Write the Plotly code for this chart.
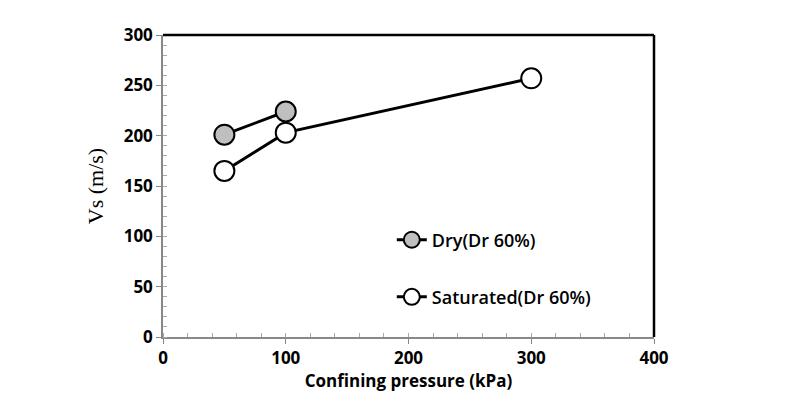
import plotly.graph_objects as go

# confining pressure (kPa) and shear wave velocity Vs (m/s)
dry_p = [50, 100]
dry_vs = [201, 224]
sat_p = [50, 100, 300]
sat_vs = [165, 203, 257]

fig = go.Figure()

fig.add_trace(go.Scatter(
    x=dry_p, y=dry_vs, mode="lines+markers", name="Dry(Dr 60%)",
    line=dict(color="black", width=3),
    marker=dict(size=20, color="#bfbfbf", line=dict(color="black", width=2)),
    legend="legend", showlegend=True))

fig.add_trace(go.Scatter(
    x=sat_p, y=sat_vs, mode="lines+markers", name="Saturated(Dr 60%)",
    line=dict(color="black", width=3),
    marker=dict(size=20, color="white", line=dict(color="black", width=2)),
    legend="legend2", showlegend=True))

axis_font = dict(family="Open Sans", size=17, color="black", weight="bold")
leg_font = dict(family="Open Sans", size=18, color="black", weight=600)

# page body has an 8px margin, so the figure is sized 8px smaller
fig.update_layout(
    width=779, height=405,
    margin=dict(l=155, r=133, t=27, b=76),
    showlegend=True,
    plot_bgcolor="white", paper_bgcolor="white",
    xaxis=dict(range=[0, 400], dtick=100, showgrid=False, zeroline=False,
               showline=True, linecolor="#888888", linewidth=1.5,
               ticks="outside", ticklen=5, tickcolor="#888888",
               minor=dict(dtick=20, ticks="inside", ticklen=4, tickcolor="#aaaaaa"),
               tickfont=axis_font,
               title=dict(text="Confining pressure (kPa)",
                          font=dict(family="Open Sans", size=17, color="black", weight="bold"),
                          standoff=6)),
    yaxis=dict(range=[0, 300], dtick=50, showgrid=False, zeroline=False,
               showline=True, linecolor="#888888", linewidth=1.5,
               ticks="outside", ticklen=5, tickcolor="#888888",
               minor=dict(dtick=10, ticks="inside", ticklen=4, tickcolor="#aaaaaa"),
               tickfont=axis_font,
               title=dict(text="Vs (m/s)",
                          font=dict(family="Liberation Serif", size=22, color="black"),
                          standoff=14)),
    legend=dict(x=0.466, y=0.321, xanchor="left", yanchor="middle",
                bgcolor="rgba(0,0,0,0)", font=leg_font),
    legend2=dict(x=0.466, y=0.132, xanchor="left", yanchor="middle",
                 bgcolor="rgba(0,0,0,0)", font=leg_font),
    shapes=[
        dict(type="line", xref="paper", yref="paper", x0=0, x1=1, y0=1, y1=1,
             line=dict(color="black", width=2.5)),
        dict(type="line", xref="paper", yref="paper", x0=1, x1=1, y0=0, y1=1,
             line=dict(color="black", width=2.5)),
    ],
)

fig.write_html("out.html")
